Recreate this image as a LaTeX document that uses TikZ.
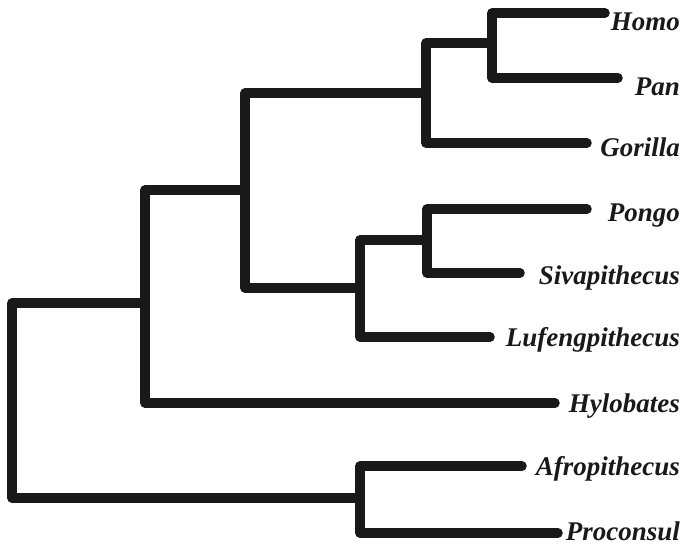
\documentclass[tikz,border=0pt]{standalone}
\usepackage{fontspec}
\setmainfont{Liberation Serif}
\begin{document}
\begin{tikzpicture}[x=1pt,y=-1pt,
  branch/.style={line width=9.5pt, line cap=round, line join=round, draw=black!90},
  taxon/.style={font=\fontsize{27}{27}\selectfont\bfseries\itshape, anchor=base east, inner sep=0pt, text=black!90}]
\useasboundingbox (0,0) rectangle (683,545);
% leaf ends
\coordinate (tHomo) at (605,13);
\coordinate (tPan) at (618,78);
\coordinate (tGor) at (587,143);
\coordinate (tPongo) at (587,209);
\coordinate (tSiva) at (520,273);
\coordinate (tLuf) at (490,337);
\coordinate (tHylo) at (555,403);
\coordinate (tAfro) at (522,466);
\coordinate (tPro) at (558,533);
% internal nodes
\coordinate (nHP) at (492,43);
\coordinate (nHPG) at (426,93);
\coordinate (nPS) at (427,240);
\coordinate (nPSL) at (360,288);
\coordinate (nGA) at (245,190);
\coordinate (nHom) at (145,303);
\coordinate (nAP) at (360,498);
\coordinate (nRoot) at (12,400);
% labels
\node[taxon] (lHomo) at (680,31) {Homo};
\node[taxon] (lPan) at (680,96) {Pan};
\node[taxon] (lGor) at (680,157) {Gorilla};
\node[taxon] (lPongo) at (680,222) {Pongo};
\node[taxon] (lSiva) at (680,285) {Sivapithecus};
\node[taxon] (lLuf) at (680,347) {Lufengpithecus};
\node[taxon] (lHylo) at (680,413) {Hylobates};
\node[taxon] (lAfro) at (680,475) {Afropithecus};
\node[taxon] (lPro) at (680,540) {Proconsul};
% branches
\draw[branch] (tHomo) -| (nHP) |- (tPan);
\draw[branch] (nHP) -| (nHPG) |- (tGor);
\draw[branch] (tPongo) -| (nPS) |- (tSiva);
\draw[branch] (nPS) -| (nPSL) |- (tLuf);
\draw[branch] (nHPG) -| (nGA) |- (nPSL);
\draw[branch] (nGA) -| (nHom) |- (tHylo);
\draw[branch] (tAfro) -| (nAP) |- (tPro);
\draw[branch] (nHom) -| (nRoot) |- (nAP);
\end{tikzpicture}
\end{document}
